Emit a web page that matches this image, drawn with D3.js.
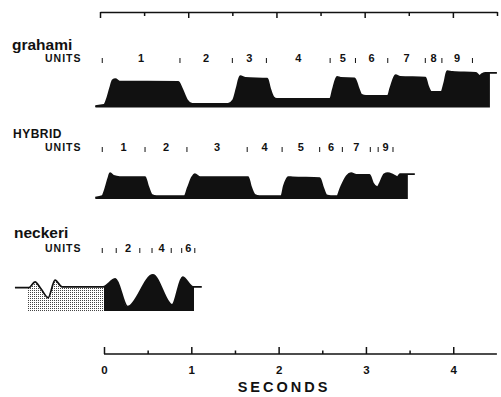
<!DOCTYPE html>
<html>
<head>
<meta charset="utf-8">
<script src="https://cdn.jsdelivr.net/npm/d3@7"></script>
<style>
  body { margin: 0; background: #fff; }
  svg { display: block; }
  text { font-family: "Liberation Sans", Arial, sans-serif; font-weight: bold; fill: #111; }
</style>
</head>
<body>
<svg id="chart" width="501" height="397"></svg>
<script>
// time in seconds, amplitude in relative units (0 = trace baseline)
const secondsMajor = [0, 1, 2, 3, 4];
const secondsMinor = [0.5, 1.5, 2.5, 3.5];
const topMajor = [0, 1, 2, 3, 4];
const topMinor = [0.5, 1.5, 2.5, 3.5, 4.5];

const grahamiTrace = [
  [-0.10, 0.04], [0.00, 0.07], [0.03, 0.21], [0.07, 0.54], [0.10, 0.76], [0.13, 0.79], [0.18, 0.72],
  [0.85, 0.71], [0.89, 0.54], [0.95, 0.21], [1.01, 0.10],
  [1.42, 0.10], [1.48, 0.21], [1.52, 0.54], [1.56, 0.87], [1.62, 0.82],
  [1.87, 0.80], [1.90, 0.54], [1.94, 0.29], [1.98, 0.24],
  [2.59, 0.24], [2.62, 0.49], [2.67, 0.85], [2.71, 0.82],
  [2.87, 0.81], [2.91, 0.57], [2.95, 0.35], [3.00, 0.32],
  [3.25, 0.32], [3.28, 0.54], [3.34, 0.90], [3.39, 0.85],
  [3.68, 0.83], [3.71, 0.60], [3.75, 0.43],
  [3.86, 0.43], [3.90, 0.71], [3.93, 1.01], [3.99, 0.99],
  [4.26, 0.96], [4.30, 0.88], [4.33, 0.93], [4.37, 0.96], [4.50, 0.96]
];
const grahamiFill = [-0.10, 4.42];
const grahamiUnits = [-0.02, 0.87, 1.47, 1.86, 2.59, 2.88, 3.25, 3.68, 3.87, 4.22];
const grahamiLabels = ["1", "2", "3", "4", "5", "6", "7", "8", "9"];

const hybridTrace = [
  [-0.10, 0.04], [-0.02, 0.08], [0.01, 0.25], [0.05, 0.58], [0.07, 0.72], [0.11, 0.64], [0.18, 0.61],
  [0.47, 0.61], [0.50, 0.39], [0.55, 0.11], [0.60, 0.08],
  [0.92, 0.08], [0.96, 0.31], [1.01, 0.61], [1.04, 0.69], [1.10, 0.61],
  [1.65, 0.61], [1.68, 0.36], [1.73, 0.11], [1.78, 0.08],
  [2.03, 0.08], [2.06, 0.36], [2.11, 0.61], [2.16, 0.60],
  [2.47, 0.58], [2.51, 0.31], [2.55, 0.10], [2.60, 0.08],
  [2.67, 0.08], [2.71, 0.31], [2.78, 0.64], [2.83, 0.72], [2.89, 0.67],
  [3.04, 0.67], [3.08, 0.44], [3.13, 0.33], [3.16, 0.44], [3.21, 0.69], [3.25, 0.72],
  [3.31, 0.67], [3.36, 0.61], [3.39, 0.69], [3.56, 0.69]
];
const hybridFill = [-0.10, 3.48];
const hybridUnits = [-0.02, 0.47, 0.95, 1.64, 2.04, 2.47, 2.73, 3.05, 3.14, 3.31];
const hybridLabels = ["1", "2", "3", "4", "5", "6", "7", "", "9"];

const neckeriTrace = [
  [-1.02, 0.65], [-0.86, 0.65], [-0.79, 0.81], [-0.72, 0.61], [-0.64, 0.37], [-0.56, 0.86],
  [-0.48, 0.67], [-0.01, 0.67], [0.13, 0.89], [0.27, 0.12], [0.56, 1.00], [0.78, 0.17],
  [0.90, 0.94], [1.02, 0.67], [1.12, 0.67]
];
const neckeriStipple = [-0.88, 0.0];
const neckeriFill = [0.0, 1.03];
const neckeriUnits = [-0.02, 0.14, 0.41, 0.55, 0.77, 0.89, 1.04];
const neckeriLabels = ["", "2", "", "4", "", "6"];

const width = 501, height = 397;
const svg = d3.select('#chart');

const x = d3.scaleLinear().domain([0, 4.5]).range([104, 496.9]);
const xTop = d3.scaleLinear().domain([0, 4.5]).range([100, 497]);
const ampPx = 36;

const defs = svg.append('defs');
const pat = defs.append('pattern')
  .attr('id', 'stipple')
  .attr('patternUnits', 'userSpaceOnUse')
  .attr('width', 2).attr('height', 2);
pat.append('rect').attr('width', 2).attr('height', 2).attr('fill', '#fff');
pat.append('rect').attr('width', 1).attr('height', 1).attr('fill', '#444');

// top time bar
function drawTop() {
  const g = svg.append('g').attr('transform', 'translate(0,12)');
  g.call(d3.axisBottom(xTop).tickValues(topMajor).tickSize(6).tickSizeOuter(0).tickFormat(''));
  const gm = svg.append('g').attr('transform', 'translate(0,12)');
  gm.call(d3.axisBottom(xTop).tickValues(topMinor).tickSize(4).tickSizeOuter(0).tickFormat(''));
  gm.select('.domain').remove();
  svg.selectAll('.tick line, .domain').attr('stroke', '#111').attr('stroke-width', 1.5);
}

let clipId = 0;
function clipRange(range, y0, y1) {
  const id = 'clip' + (clipId++);
  defs.append('clipPath').attr('id', id)
    .append('rect')
    .attr('x', x(range[0])).attr('y', y0)
    .attr('width', x(range[1]) - x(range[0])).attr('height', y1 - y0);
  return 'url(#' + id + ')';
}

function drawTrace(trace, base, fills) {
  const y = d3.scaleLinear().domain([0, 1]).range([base, base - ampPx]);
  const area = d3.area().curve(d3.curveMonotoneX)
    .x(d => x(d[0])).y0(base).y1(d => y(d[1]));
  const line = d3.line().curve(d3.curveMonotoneX)
    .x(d => x(d[0])).y(d => y(d[1]));
  fills.forEach(f => {
    svg.append('path')
      .datum(trace)
      .attr('d', area)
      .attr('fill', f.fill)
      .attr('clip-path', clipRange(f.range, base - ampPx - 10, base + 2));
  });
  svg.append('path')
    .datum(trace)
    .attr('d', line)
    .attr('fill', 'none')
    .attr('stroke', '#111')
    .attr('stroke-width', 1.8)
    .attr('stroke-linejoin', 'round');
}

function drawUnits(bounds, labels, baseline) {
  const g = svg.append('g');
  g.selectAll('line')
    .data(bounds)
    .enter().append('line')
    .attr('x1', d => x(d)).attr('x2', d => x(d))
    .attr('y1', baseline - 4).attr('y2', baseline + 1)
    .attr('stroke', '#111').attr('stroke-width', 1);
  g.selectAll('text')
    .data(labels)
    .enter().append('text')
    .attr('x', (d, i) => x((bounds[i] + bounds[i + 1]) / 2))
    .attr('y', baseline)
    .attr('text-anchor', 'middle')
    .attr('font-size', 11)
    .text(d => d);
  svg.append('text')
    .attr('x', 45).attr('y', baseline)
    .attr('font-size', 10.5)
    .attr('letter-spacing', 1)
    .text('UNITS');
}

drawTop();

svg.append('text').attr('x', 12).attr('y', 50).attr('font-size', 15.5).text('grahami');
drawUnits(grahamiUnits, grahamiLabels, 62);
drawTrace(grahamiTrace, 107.5, [{range: grahamiFill, fill: '#111'}]);

svg.append('text').attr('x', 13).attr('y', 138).attr('font-size', 12).attr('letter-spacing', 0.5).text('HYBRID');
drawUnits(hybridUnits, hybridLabels, 151);
drawTrace(hybridTrace, 199, [{range: hybridFill, fill: '#111'}]);

svg.append('text').attr('x', 14).attr('y', 238).attr('font-size', 15.5).text('neckeri');
drawUnits(neckeriUnits, neckeriLabels, 252);
drawTrace(neckeriTrace, 311, [
  {range: neckeriStipple, fill: 'url(#stipple)'},
  {range: neckeriFill, fill: '#111'}
]);

// seconds axis
const gx = svg.append('g').attr('transform', 'translate(0,354)');
gx.call(d3.axisBottom(x).tickValues(secondsMajor).tickSize(-7).tickSizeOuter(0).tickPadding(12).tickFormat(d3.format('d')));
gx.select('.domain').attr('d', `M${x(0)},0H${x(4.5)}`);
const gxm = svg.append('g').attr('transform', 'translate(0,354)');
gxm.call(d3.axisBottom(x).tickValues(secondsMinor).tickSize(-3.5).tickSizeOuter(0).tickFormat(''));
gxm.select('.domain').remove();
[gx, gxm].forEach(g => g.selectAll('line, path').attr('stroke', '#111').attr('stroke-width', 1.5));
gx.selectAll('text').attr('font-size', 11.5).attr('font-family', '"Liberation Sans", Arial, sans-serif').attr('font-weight', 'bold').attr('fill', '#111');

svg.append('text')
  .attr('x', 284).attr('y', 392)
  .attr('text-anchor', 'middle')
  .attr('font-size', 14.5)
  .attr('letter-spacing', 3)
  .text('SECONDS');
</script>
</body>
</html>
